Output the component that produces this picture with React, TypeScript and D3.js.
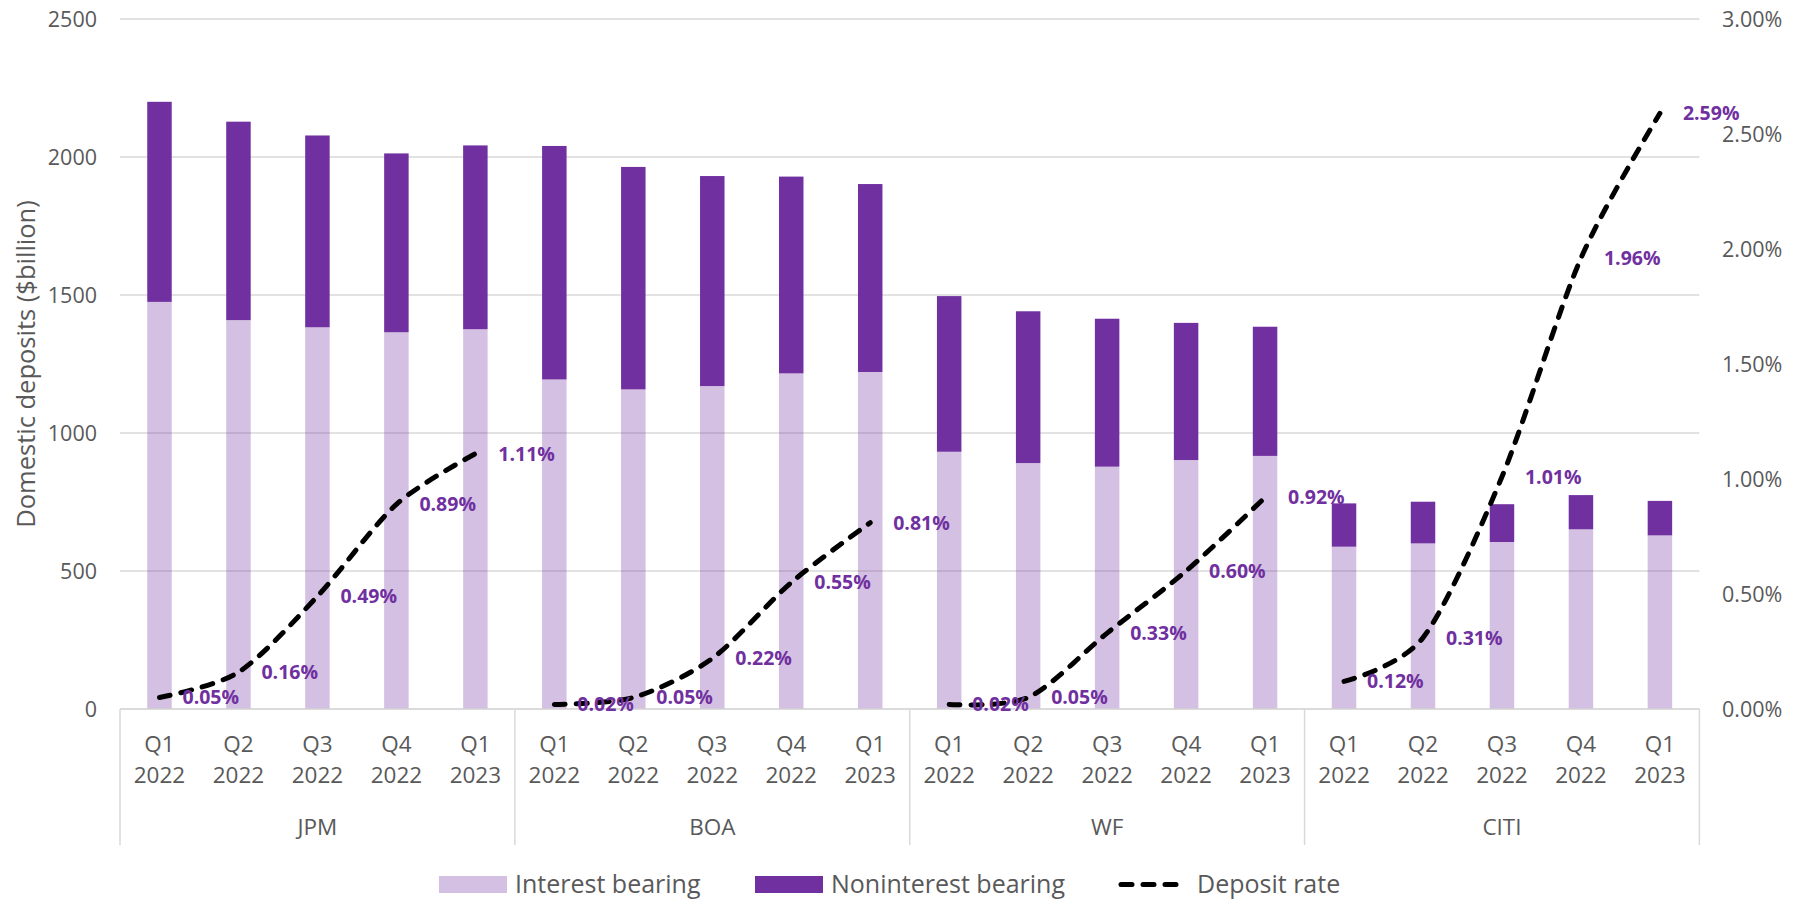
import React from "react";
import * as d3 from "d3";

const banks = ["JPM", "BOA", "WF", "CITI"];
const quarters = ["Q1 2022", "Q2 2022", "Q3 2022", "Q4 2022", "Q1 2023"];
const interestBearing = [
  1475, 1409, 1383, 1365, 1376,
  1194, 1158, 1170, 1216, 1221,
  932, 891, 878, 902, 917,
  588, 600, 605, 651, 629,
];
const nonInterestBearing = [
  725, 719, 695, 648, 666,
  846, 806, 761, 713, 681,
  564, 550, 536, 497, 468,
  157, 151, 137, 124, 125,
];
const depositRate = [
  0.05, 0.16, 0.49, 0.89, 1.11,
  0.02, 0.05, 0.22, 0.55, 0.81,
  0.02, 0.05, 0.33, 0.6, 0.92,
  0.12, 0.31, 1.01, 1.96, 2.59,
];
const leftTicks = [0, 500, 1000, 1500, 2000, 2500];
const rightTicks = [0, 0.5, 1, 1.5, 2, 2.5, 3];
const legendLabels = ["Interest bearing", "Noninterest bearing", "Deposit rate"];

const PURPLE = "#7030A0";
const TEXT = "#595959";
const GRID = "#D9D9D9";
const FONT = "'Open Sans', 'Noto Sans', sans-serif";

export default function App() {
  const W = 1799, H = 900;
  const left = 120, right = 1699.4, top = 19, bottom = 709;

  const keys = banks.flatMap((b) => quarters.map((q) => `${b}|${q}`));
  const x = d3.scaleBand<string>().domain(keys).range([left, right]).paddingInner(0.69).paddingOuter(0.345);
  const step = x.step();
  const yL = d3.scaleLinear().domain([0, 2500]).range([bottom, top]);
  const yR = d3.scaleLinear().domain([0, 3]).range([bottom, top]);
  const cx = (i: number) => (x(keys[i]) as number) + x.bandwidth() / 2;

  const segments = banks.map((b, bi) => {
    const idx = quarters.map((_, qi) => bi * 5 + qi);
    const gen = d3
      .line<number>()
      .x((i) => cx(i))
      .y((i) => yR(depositRate[i]))
      .curve(d3.curveCardinal.tension(0.15));
    return gen(idx) as string;
  });

  const groupEdges = banks.map((_, bi) => left + bi * 5 * step).concat([right]);

  return (
    <svg
      width={W}
      height={H}
      style={{ position: "absolute", left: 0, top: 0, background: "#fff" }}
      fontFamily={FONT}
    >
      {leftTicks.map((t) => (
        <line key={t} x1={left} x2={right} y1={yL(t)} y2={yL(t)} stroke={GRID} strokeWidth={1.5} />
      ))}
      {keys.map((k, i) => (
        <g key={k}>
          <rect
            x={x(k)}
            width={x.bandwidth()}
            y={yL(interestBearing[i])}
            height={yL(0) - yL(interestBearing[i])}
            fill={PURPLE}
            fillOpacity={0.3}
          />
          <rect
            x={x(k)}
            width={x.bandwidth()}
            y={yL(interestBearing[i] + nonInterestBearing[i])}
            height={yL(interestBearing[i]) - yL(interestBearing[i] + nonInterestBearing[i])}
            fill={PURPLE}
          />
        </g>
      ))}
      <line x1={left} x2={right} y1={bottom} y2={bottom} stroke={GRID} strokeWidth={1.5} />
      {groupEdges.map((gx, i) => (
        <line key={i} x1={gx} x2={gx} y1={bottom} y2={845} stroke={GRID} strokeWidth={1.5} />
      ))}
      {leftTicks.map((t) => (
        <text key={t} x={97} y={yL(t)} dy="0.35em" textAnchor="end" fontSize={21.5} fill={TEXT}>
          {t}
        </text>
      ))}
      {rightTicks.map((t) => (
        <text key={t} x={1722} y={yR(t)} dy="0.35em" textAnchor="start" fontSize={21.5} fill={TEXT}>
          {d3.format(".2f")(t) + "%"}
        </text>
      ))}
      <text
        transform={`translate(26,${(top + bottom) / 2}) rotate(-90)`}
        textAnchor="middle"
        dy="0.35em"
        fontSize={25.5}
        fill={TEXT}
      >
        Domestic deposits ($billion)
      </text>
      {keys.map((k, i) => {
        const [q, yr] = quarters[i % 5].split(" ");
        return (
          <g key={k}>
            <text x={cx(i)} y={752} textAnchor="middle" fontSize={22.5} fill={TEXT}>
              {q}
            </text>
            <text x={cx(i)} y={783} textAnchor="middle" fontSize={22.5} fill={TEXT}>
              {yr}
            </text>
          </g>
        );
      })}
      {banks.map((b, bi) => (
        <text
          key={b}
          x={(groupEdges[bi] + groupEdges[bi + 1]) / 2}
          y={835}
          textAnchor="middle"
          fontSize={22.5}
          fill={TEXT}
        >
          {b}
        </text>
      ))}
      {segments.map((d, i) => (
        <path
          key={i}
          d={d}
          fill="none"
          stroke="#000"
          strokeWidth={5}
          strokeDasharray="11 11"
          strokeLinecap="round"
        />
      ))}
      {depositRate.map((r, i) => (
        <text
          key={i}
          x={cx(i) + 23}
          y={yR(r)}
          dy="0.35em"
          fontSize={19.5}
          fontWeight="bold"
          fill={PURPLE}
        >
          {d3.format(".2f")(r) + "%"}
        </text>
      ))}
      <rect x={439} y={876} width={68} height={17} fill={PURPLE} fillOpacity={0.3} />
      <text x={515} y={893} fontSize={25} fill={TEXT}>
        {legendLabels[0]}
      </text>
      <rect x={755} y={876} width={68} height={17} fill={PURPLE} />
      <text x={831} y={893} fontSize={25} fill={TEXT}>
        {legendLabels[1]}
      </text>
      <line
        x1={1121}
        x2={1183}
        y1={884.5}
        y2={884.5}
        stroke="#000"
        strokeWidth={5}
        strokeDasharray="11 11"
        strokeLinecap="round"
      />
      <text x={1197} y={893} fontSize={25} fill={TEXT}>
        {legendLabels[2]}
      </text>
    </svg>
  );
}
